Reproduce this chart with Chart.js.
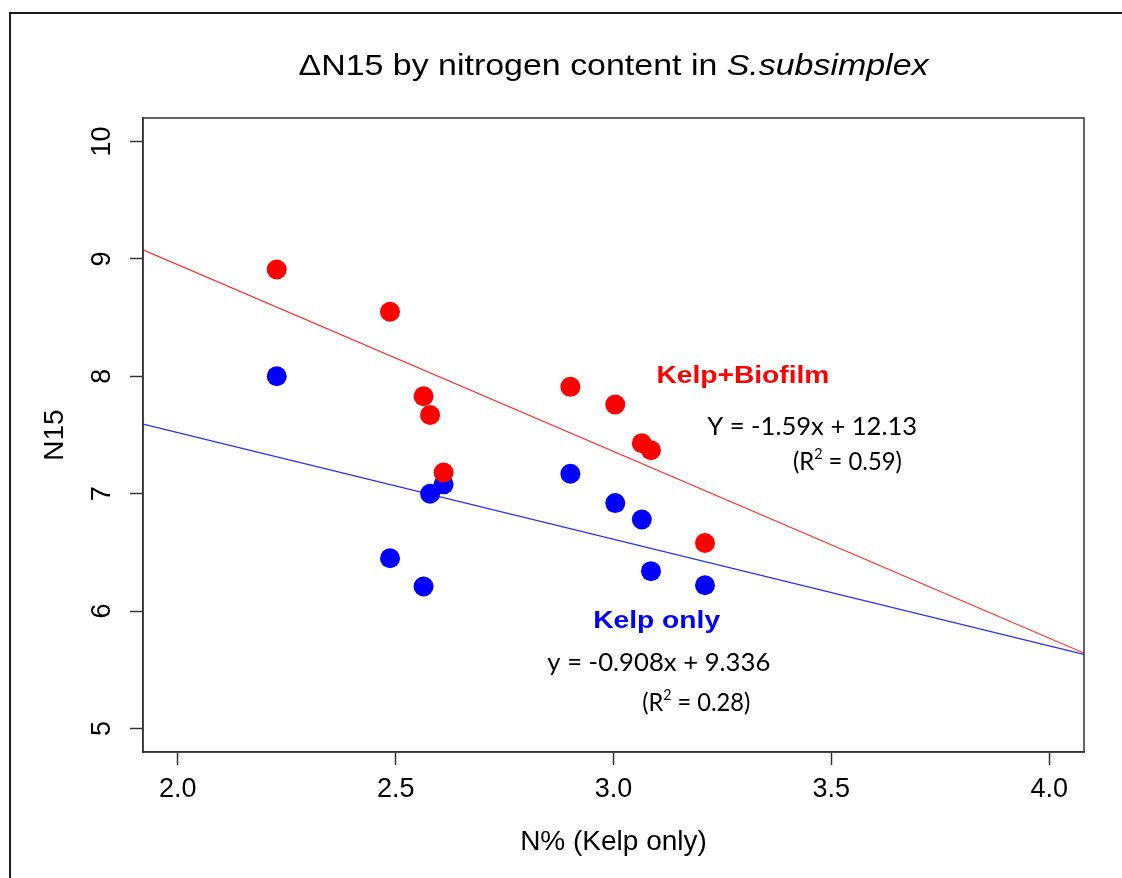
<!DOCTYPE html>
<html><head><meta charset="utf-8">
<script src="https://cdn.jsdelivr.net/npm/chart.js@4.4.1/dist/chart.umd.min.js"></script>
<style>
html,body{margin:0;padding:0;background:#fff;}
#wrap{position:relative;width:1122px;height:878px;overflow:hidden;background:#fff;}
#frame{position:absolute;left:9px;top:12px;width:1300px;height:1000px;border-left:2px solid #1a1a1a;border-top:2px solid #1a1a1a;pointer-events:none;}
canvas{position:absolute;left:0;top:0;}
</style></head><body>
<div id="wrap"><canvas id="c" width="1122" height="878"></canvas><div id="frame"></div></div>
<script>
// ---- data ----
const nPercent       = [2.227, 2.487, 2.564, 2.579, 2.610, 2.901, 3.004, 3.065, 3.086, 3.210];
const n15KelpBiofilm = [8.91, 8.55, 7.83, 7.67, 7.18, 7.91, 7.76, 7.43, 7.37, 6.58];
const n15KelpOnly    = [8.00, 6.45, 6.21, 7.00, 7.08, 7.17, 6.92, 6.78, 6.34, 6.22];
const fitSlopes      = [-1.59, -0.908];   // Kelp+Biofilm, Kelp only
const fitIntercepts  = [12.13, 9.336];
const xLimits = [1.92, 4.08];
const yLimits = [4.8, 10.2];
const xTicks = [2.0, 2.5, 3.0, 3.5, 4.0];
const yTicks = [5, 6, 7, 8, 9, 10];

const SANS = '"Liberation Sans", Arial, sans-serif';
const CAL = 'Lato, "Open Sans", sans-serif';

const fitLine = (i) => xLimits.map(x => ({x: x, y: fitSlopes[i] * x + fitIntercepts[i]}));

// annotations: anchored in data space (center x, baseline y)
const annotations = [
  {x: 3.297, y: 7.942, w: 173, segs: [{t: 'Kelp+Biofilm', f: 'bold 23px ' + SANS, c: '#ff0000'}]},
  {x: 3.456, y: 7.502, w: 210, segs: [{t: 'Y = -1.59x + 12.13', f: '25px ' + CAL, c: '#000'}]},
  {x: 3.537, y: 7.204, w: 109, segs: [{t: '(R', f: '25px ' + CAL, c: '#000'}, {t: '2', f: '15px ' + CAL, c: '#000', dy: -11}, {t: ' = 0.59)', f: '25px ' + CAL, c: '#000'}]},
  {x: 3.099, y: 5.855, w: 127, segs: [{t: 'Kelp only', f: 'bold 23px ' + SANS, c: '#0000ff'}]},
  {x: 3.104, y: 5.486, w: 223, segs: [{t: 'y = -0.908x + 9.336', f: '25px ' + CAL, c: '#000'}]},
  {x: 3.190, y: 5.145, w: 108, segs: [{t: '(R', f: '25px ' + CAL, c: '#000'}, {t: '2', f: '15px ' + CAL, c: '#000', dy: -11}, {t: ' = 0.28)', f: '25px ' + CAL, c: '#000'}]}
];

function drawRich(ctx, segs, cx, by, targetW) {
  ctx.save();
  ctx.textBaseline = 'alphabetic';
  ctx.textAlign = 'left';
  let w = 0;
  segs.forEach(s => { ctx.font = s.f; w += ctx.measureText(s.t).width; });
  const sx = targetW ? targetW / w : 1;
  ctx.translate(cx - w * sx / 2, by);
  ctx.scale(sx, 1);
  let x = 0;
  segs.forEach(s => {
    ctx.font = s.f; ctx.fillStyle = s.c;
    ctx.fillText(s.t, x, s.dy || 0);
    x += ctx.measureText(s.t).width;
  });
  ctx.restore();
}

const decorPlugin = {
  id: 'decor',
  afterDraw(chart) {
    const ctx = chart.ctx, a = chart.chartArea;
    const xs = chart.scales.x, ys = chart.scales.y;
    ctx.save();
    ctx.strokeStyle = '#333';
    ctx.lineWidth = 1.5;
    ctx.strokeRect(a.left, a.top, a.right - a.left, a.bottom - a.top);
    ctx.restore();
    drawRich(ctx, [
      {t: '\u0394N15 by nitrogen content in ', f: '30px ' + SANS, c: '#000'},
      {t: 'S.subsimplex', f: 'italic 30px ' + SANS, c: '#000'}
    ], (a.left + a.right) / 2, 75, 630);
    annotations.forEach(an => {
      drawRich(ctx, an.segs, xs.getPixelForValue(an.x), ys.getPixelForValue(an.y), an.w);
    });
  }
};

const tickFont = {family: SANS, size: 27};
new Chart(document.getElementById('c'), {
  type: 'scatter',
  data: {
    datasets: [
      {label: 'Kelp+Biofilm', data: nPercent.map((x, i) => ({x: x, y: n15KelpBiofilm[i]})),
       backgroundColor: '#ff0000', borderWidth: 0, pointRadius: 10, pointHoverRadius: 10},
      {label: 'Kelp only', data: nPercent.map((x, i) => ({x: x, y: n15KelpOnly[i]})),
       backgroundColor: '#0000ff', borderWidth: 0, pointRadius: 10, pointHoverRadius: 10},
      {label: 'Kelp+Biofilm fit', type: 'line', data: fitLine(0), borderColor: '#ff2a2a',
       borderWidth: 1.2, pointRadius: 0, fill: false, tension: 0},
      {label: 'Kelp only fit', type: 'line', data: fitLine(1), borderColor: '#2a2aff',
       borderWidth: 1.2, pointRadius: 0, fill: false, tension: 0}
    ]
  },
  options: {
    responsive: false,
    animation: false,
    events: [],
    layout: {padding: {top: 118, right: 38, left: 0, bottom: 0}},
    plugins: {legend: {display: false}, tooltip: {enabled: false}, title: {display: false}},
    scales: {
      x: {
        type: 'linear', min: xLimits[0], max: xLimits[1],
        afterBuildTicks: s => { s.ticks = xTicks.map(v => ({value: v})); },
        afterFit: s => { s.height = 126; },
        ticks: {font: tickFont, color: '#000', padding: 8, maxRotation: 0,
                callback: v => Number(v).toFixed(1)},
        grid: {display: true, drawOnChartArea: false, drawTicks: true, tickLength: 13, tickColor: '#333', tickWidth: 1.5},
        border: {display: true, color: '#333', width: 1.5},
        title: {display: true, text: 'N% (Kelp only)', color: '#000', font: {family: SANS, size: 28},
                padding: {top: 0, bottom: 19}}
      },
      y: {
        type: 'linear', min: yLimits[0], max: yLimits[1],
        afterBuildTicks: s => { s.ticks = yTicks.map(v => ({value: v})); },
        afterFit: s => { s.width = 143; },
        ticks: {font: tickFont, color: '#000', padding: 12, minRotation: 90, maxRotation: 90,
                crossAlign: 'center', callback: v => String(v)},
        grid: {display: true, drawOnChartArea: false, drawTicks: true, tickLength: 13, tickColor: '#333', tickWidth: 1.5},
        border: {display: true, color: '#333', width: 1.5},
        title: {display: true, text: 'N15', color: '#000', font: {family: SANS, size: 28},
                padding: {top: 38, bottom: 0}}
      }
    }
  },
  plugins: [decorPlugin]
});
</script>
</body></html>
